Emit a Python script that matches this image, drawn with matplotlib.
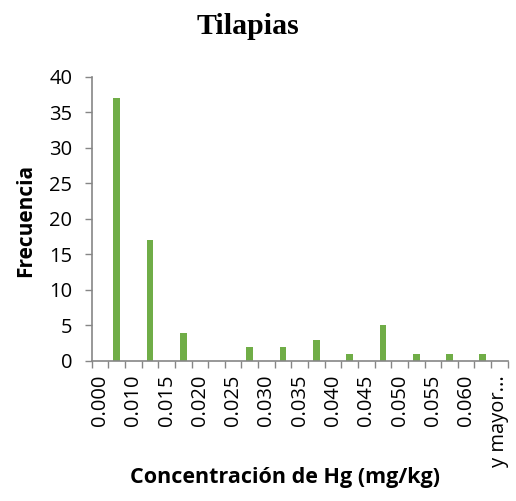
import matplotlib.pyplot as plt
import numpy as np

# ---------------- Data ----------------

binLabels = ["0.000", "0.010", "0.015", "0.020", "0.025", "0.030", "0.035",
             "0.040", "0.045", "0.050", "0.055", "0.060", "y mayor..."]
frequencies = [37, 17, 4, 0, 2, 2, 3, 1, 5, 1, 1, 1]

axisGray = "#868686"
barGreen = "#70AD47"

# ---------------- Figure ----------------

plt.rcParams["font.family"] = ["Open Sans", "DejaVu Sans"]

fig = plt.figure(figsize=(5.16, 5.01), dpi=100)
ax = fig.add_axes([91.7 / 516, 1 - 361 / 501, 416 / 516, (361 - 76.7) / 501])

# bars sit between the label slots, two slots per bin
barPos = np.arange(len(frequencies)) * 2 + 1.5
labelPos = np.arange(len(binLabels)) * 2 + 0.5

ax.bar(barPos, frequencies, width=0.4, color=barGreen)

ax.set_xlim(0, 25)
ax.set_ylim(0, 40)
ax.set_yticks(np.arange(0, 41, 5))
ax.set_xticks(np.arange(0, 26, 1), minor=True)
ax.set_xticks(labelPos)
ax.set_xticklabels(binLabels, rotation=90, fontsize=14.5)

ax.tick_params(axis="x", which="major", length=0, pad=10)
ax.tick_params(axis="x", which="minor", length=5, color=axisGray, width=1)
ax.tick_params(axis="y", length=5, color=axisGray, width=1, pad=9, labelsize=14.5)

for side in ["top", "right"]:
    ax.spines[side].set_visible(False)
for side in ["left", "bottom"]:
    ax.spines[side].set_color(axisGray)
    ax.spines[side].set_linewidth(1.2)

fig.text(248 / 516, 1 - 27 / 501, "Tilapias", ha="center", va="center",
         fontsize=21.5, fontweight="bold", family="Liberation Serif")
fig.text(26 / 516, 1 - 220 / 501, "Frecuencia", ha="center", va="center",
         rotation=90, fontsize=15, fontweight="bold")
fig.text(285 / 516, 1 - 478 / 501, "Concentración de Hg (mg/kg)", ha="center",
         va="center", fontsize=15.5, fontweight="bold")

fig.savefig("out.png", dpi=100)
